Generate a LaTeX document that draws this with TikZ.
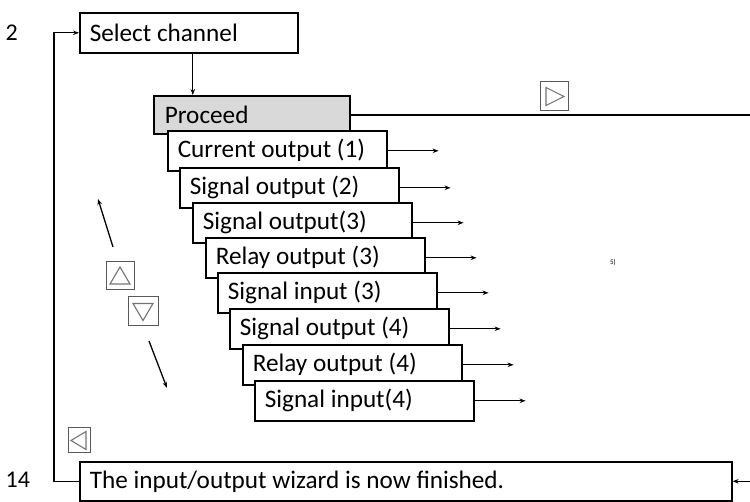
\documentclass[tikz,border=0pt]{standalone}
\usepackage{fontspec}
\setmainfont{Carlito}
\usetikzlibrary{arrows.meta,calc}
\begin{document}
\begin{tikzpicture}[x=1pt,y=-1pt,
  box/.style={draw, line width=1.6pt, fill=white, minimum height=40pt, inner xsep=10pt,
    inner ysep=0pt, align=flush left, anchor=north west, font=\fontsize{25.2}{29}\selectfont},
  arr/.style={-{Stealth[length=6pt,width=4.5pt]}, line width=1.3pt},
  icon/.style={draw=black!65, line width=1pt, inner sep=0pt},
  tri/.style={draw=black!55, line width=1.1pt, line join=miter},
  num/.style={anchor=west, inner sep=0pt, font=\fontsize{24}{28}\selectfont},
]
\useasboundingbox (0,0) rectangle (750,502);

% numbers
\node[num] (n2) at (5.5,33) {2};
\node[num] (n14) at (5.5,480) {14};

% select and proceed
\node[box, text width=198pt] (select) at (79,12) {Select channel};
\node[box, fill={rgb,255:red,217;green,217;blue,217}, text width=174pt, minimum height=38pt, inner xsep=11pt] (proceed) at (153,95) {Proceed};

% stacked boxes
\foreach \i/\x/\y/\t in {1/167/130/Current output (1),
                         2/179/167/Signal output (2),
                         3/192/202/Signal output(3),
                         4/205/237/Relay output (3),
                         5/217/272/Signal input (3),
                         6/229/308/Signal output (4),
                         7/242/344/Relay output (4),
                         8/254/380/Signal input(4)}{
  \node[box, text width=199pt] (b\i) at (\x,\y) {\t};
  \draw[arr] (b\i.east) -- ++(51,0);
}

% finish box
\node[box, text width=632pt, minimum height=39pt] (finish) at (79,461) {The input/output wizard is now finished.};

% right edge coordinates
\coordinate (redge) at (750,0);

% connectors
\draw[arr, line width=1pt] ([xshift=4pt]select.south) -- ([xshift=4pt]select.south |- proceed.north);
\draw[line width=1.5pt] (proceed.east) -- (proceed.east -| redge);
\draw[arr] (finish.east -| redge) -- (finish.east);
\draw[arr] (finish.west) -- ++(-25,0) |- (select.west);

% icons
\node[icon, minimum width=28pt, minimum height=29pt] (fwd) at (554,96.5) {};
\draw[tri] ($(fwd.center)+(-8,-9)$) -- ($(fwd.center)+(10,0)$) -- ($(fwd.center)+(-8,9)$) -- cycle;

\node[icon, minimum width=28pt, minimum height=28pt] (up) at (120,276) {};
\draw[tri] ($(up.center)+(0,-9)$) -- ($(up.center)+(10,8)$) -- ($(up.center)+(-10,8)$) -- cycle;

\node[icon, minimum width=30pt, minimum height=29pt] (down) at (143,311.5) {};
\draw[tri] ($(down.center)+(-10,-8)$) -- ($(down.center)+(10,-8)$) -- ($(down.center)+(0,9)$) -- cycle;

\node[icon, minimum width=22pt, minimum height=25pt] (back) at (79,440.5) {};
\draw[tri] ($(back.center)+(7,-9)$) -- ($(back.center)+(7,9)$) -- ($(back.center)+(-8,0)$) -- cycle;

% scroll arrows
\coordinate (ua1) at (113,247);
\coordinate (ua2) at (98,199);
\draw[arr] (ua1) -- (ua2);
\coordinate (da1) at (149,341);
\coordinate (da2) at (167,388);
\draw[arr] (da1) -- (da2);

% footnote mark
\node[font=\fontsize{7}{8}\selectfont] (fn) at (613,262) {5)};
\end{tikzpicture}
\end{document}
